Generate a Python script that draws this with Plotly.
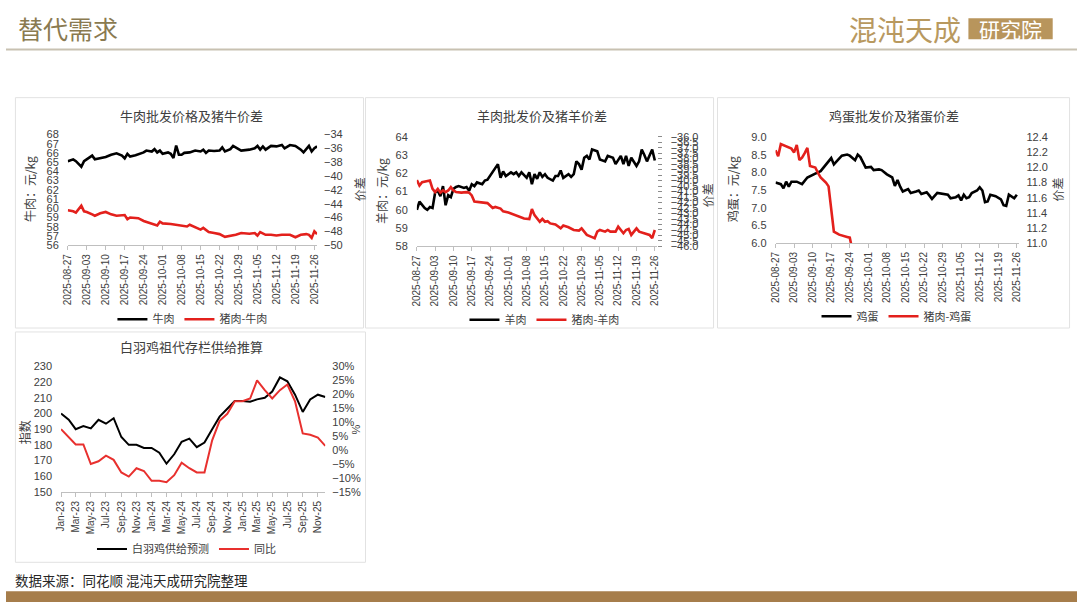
import plotly.graph_objects as go

W, H = 1080, 608

# ---------------- data ----------------
# Chart 1: 牛肉批发价格及猪牛价差
beef_dates = ["2025-08-27","2025-08-29","2025-08-30","2025-09-01","2025-09-02","2025-09-04","2025-09-05","2025-09-06",
              "2025-09-08","2025-09-10","2025-09-12","2025-09-14","2025-09-16","2025-09-17","2025-09-18","2025-09-19",
              "2025-09-21","2025-09-23","2025-09-24","2025-09-25","2025-09-27","2025-09-28","2025-09-29","2025-09-30",
              "2025-10-01","2025-10-03","2025-10-04","2025-10-05","2025-10-06","2025-10-07","2025-10-08","2025-10-09",
              "2025-10-11","2025-10-13","2025-10-15","2025-10-16","2025-10-17","2025-10-18","2025-10-20","2025-10-22",
              "2025-10-23","2025-10-24","2025-10-26","2025-10-27","2025-10-28","2025-10-30","2025-11-02","2025-11-04",
              "2025-11-05","2025-11-06","2025-11-07","2025-11-08","2025-11-10","2025-11-12","2025-11-14","2025-11-15",
              "2025-11-17","2025-11-19","2025-11-21","2025-11-22","2025-11-24","2025-11-25","2025-11-26","2025-11-27"]
beef = [65.1,65.3,65.1,64.5,65.1,65.45,65.7,65.3,65.45,65.55,65.8,65.95,65.7,65.4,65.9,65.6,
        65.75,65.9,66.05,66.25,66.15,66.4,66.05,66.25,65.9,66.05,65.9,65.45,66.8,65.8,65.8,66.0,
        66.05,66.25,66.15,66.35,66.0,66.25,66.2,66.25,66.6,66.15,66.4,66.75,66.6,66.25,66.35,66.5,
        66.75,66.35,66.7,66.35,66.75,66.7,66.85,66.5,66.85,66.75,66.35,66.05,66.75,66.15,66.5,66.7]

pork_beef_dates = ["2025-08-27","2025-08-29","2025-08-30","2025-09-01","2025-09-02","2025-09-03","2025-09-05","2025-09-06",
                   "2025-09-08","2025-09-10","2025-09-12","2025-09-14","2025-09-17","2025-09-18","2025-09-19","2025-09-22",
                   "2025-09-24","2025-09-26","2025-09-28","2025-09-29","2025-09-30","2025-10-01","2025-10-04","2025-10-08",
                   "2025-10-10","2025-10-11","2025-10-13","2025-10-15","2025-10-16","2025-10-18","2025-10-20","2025-10-22",
                   "2025-10-24","2025-10-26","2025-10-28","2025-10-30","2025-11-02","2025-11-04","2025-11-05","2025-11-06",
                   "2025-11-08","2025-11-10","2025-11-12","2025-11-14","2025-11-17","2025-11-19","2025-11-21","2025-11-23",
                   "2025-11-24","2025-11-25","2025-11-26","2025-11-27"]
pork_beef = [-44.95,-45.1,-45.3,-44.3,-45.1,-45.2,-45.55,-45.75,-45.4,-45.2,-45.55,-45.75,-45.65,-46.25,-46.0,-46.1,
             -46.5,-46.8,-47.05,-47.15,-46.6,-46.85,-46.95,-47.2,-47.3,-47.05,-47.35,-47.75,-47.5,-48.1,-48.25,-48.4,
             -48.8,-48.7,-48.5,-48.25,-48.35,-48.25,-48.6,-48.1,-48.5,-48.5,-48.6,-48.5,-48.5,-48.85,-48.5,-48.4,
             -48.5,-48.95,-48.0,-48.4]

# Chart 2: 羊肉批发价及猪羊价差
mutton_dates = ["2025-08-27","2025-08-28","2025-08-30","2025-08-31","2025-09-01","2025-09-02","2025-09-03","2025-09-04",
                "2025-09-05","2025-09-06","2025-09-07","2025-09-08","2025-09-09","2025-09-10","2025-09-11","2025-09-12",
                "2025-09-14","2025-09-15","2025-09-16","2025-09-17","2025-09-18","2025-09-19","2025-09-21","2025-09-22",
                "2025-09-23","2025-09-25","2025-09-26","2025-09-27","2025-09-28","2025-09-29","2025-09-30","2025-10-02",
                "2025-10-03","2025-10-04","2025-10-05","2025-10-06","2025-10-08","2025-10-09","2025-10-10","2025-10-11",
                "2025-10-12","2025-10-13","2025-10-14","2025-10-15","2025-10-16","2025-10-18","2025-10-19","2025-10-20",
                "2025-10-21","2025-10-22","2025-10-24","2025-10-25","2025-10-26","2025-10-27","2025-10-28","2025-10-29",
                "2025-10-30","2025-10-31","2025-11-01","2025-11-02","2025-11-04","2025-11-05","2025-11-07","2025-11-08",
                "2025-11-10","2025-11-11","2025-11-13","2025-11-14","2025-11-15","2025-11-16","2025-11-17","2025-11-19",
                "2025-11-20","2025-11-21","2025-11-22","2025-11-23","2025-11-25","2025-11-26"]
mutton = [60.0,60.45,60.1,60.0,60.15,60.1,60.95,61.05,60.75,61.3,60.25,60.8,60.7,61.15,61.25,61.3,
          61.2,61.25,61.05,61.4,61.3,61.5,61.4,61.6,61.65,62.05,62.3,62.5,61.75,62.1,61.85,62.05,
          61.95,62.05,61.85,62.05,61.75,62.05,61.4,61.95,61.7,62.05,61.8,61.95,61.75,61.6,61.85,61.85,
          62.15,61.75,61.95,61.8,61.95,62.65,62.5,62.2,62.85,62.95,62.75,63.3,63.2,62.75,62.65,62.95,
          62.85,62.5,62.95,62.5,62.95,62.4,62.85,62.4,62.65,63.3,63.0,62.65,63.3,62.7]

pork_mutton_dates = ["2025-08-27","2025-08-28","2025-08-29","2025-08-30","2025-09-01","2025-09-02","2025-09-03","2025-09-04",
                     "2025-09-05","2025-09-06","2025-09-07","2025-09-08","2025-09-09","2025-09-10","2025-09-11","2025-09-13",
                     "2025-09-15","2025-09-16","2025-09-17","2025-09-18","2025-09-20","2025-09-23","2025-09-25","2025-09-26",
                     "2025-09-28","2025-09-29","2025-10-01","2025-10-03","2025-10-05","2025-10-07","2025-10-09","2025-10-10",
                     "2025-10-11","2025-10-12","2025-10-13","2025-10-14","2025-10-15","2025-10-16","2025-10-17","2025-10-19",
                     "2025-10-21","2025-10-22","2025-10-24","2025-10-26","2025-10-28","2025-10-29","2025-10-31","2025-11-02",
                     "2025-11-03","2025-11-04","2025-11-05","2025-11-07","2025-11-08","2025-11-09","2025-11-11","2025-11-12",
                     "2025-11-14","2025-11-15","2025-11-16","2025-11-17","2025-11-19","2025-11-20","2025-11-22","2025-11-24",
                     "2025-11-25","2025-11-26"]
pork_mutton = [-39.95,-40.45,-40.15,-40.1,-40.0,-40.75,-41.05,-40.75,-41.1,-40.9,-41.05,-40.9,-40.6,-40.9,-41.05,-41.1,
               -41.05,-41.1,-41.35,-41.9,-41.95,-42.05,-42.5,-42.4,-42.55,-42.8,-42.9,-43.1,-43.25,-43.45,-43.5,-42.6,
               -43.15,-43.45,-43.75,-43.5,-43.75,-43.7,-43.9,-44.0,-44.35,-44.1,-44.25,-44.5,-44.55,-44.35,-44.95,-45.15,
               -45.25,-44.65,-44.5,-44.65,-44.5,-44.65,-44.65,-44.2,-44.8,-44.5,-44.4,-44.95,-44.35,-44.65,-44.8,-44.95,
               -45.25,-44.5]

# Chart 3: 鸡蛋批发价及猪蛋价差
egg_dates = ["2025-08-27","2025-08-29","2025-08-30","2025-08-31","2025-09-01","2025-09-02","2025-09-04","2025-09-06",
             "2025-09-08","2025-09-10","2025-09-11","2025-09-13","2025-09-15","2025-09-17","2025-09-18","2025-09-19",
             "2025-09-21","2025-09-23","2025-09-24","2025-09-26","2025-09-27","2025-09-28","2025-09-29","2025-09-30",
             "2025-10-02","2025-10-03","2025-10-05","2025-10-06","2025-10-08","2025-10-10","2025-10-11","2025-10-12",
             "2025-10-13","2025-10-14","2025-10-16","2025-10-17","2025-10-19","2025-10-20","2025-10-21","2025-10-23",
             "2025-10-24","2025-10-25","2025-10-27","2025-10-29","2025-10-31","2025-11-01","2025-11-03","2025-11-04",
             "2025-11-05","2025-11-06","2025-11-07","2025-11-08","2025-11-09","2025-11-11","2025-11-12","2025-11-13",
             "2025-11-14","2025-11-15","2025-11-16","2025-11-18","2025-11-20","2025-11-21","2025-11-22","2025-11-23",
             "2025-11-25","2025-11-26"]
egg = [7.72,7.67,7.55,7.74,7.6,7.74,7.74,7.67,7.86,7.92,7.97,8.04,8.23,8.41,8.23,8.32,
       8.48,8.51,8.48,8.35,8.51,8.44,8.28,8.14,8.16,8.07,8.09,8.07,7.95,7.86,7.62,7.79,
       7.6,7.46,7.53,7.42,7.46,7.49,7.39,7.44,7.35,7.25,7.42,7.39,7.37,7.27,7.3,7.35,
       7.21,7.37,7.27,7.3,7.42,7.49,7.58,7.49,7.16,7.18,7.37,7.33,7.24,7.07,7.05,7.37,
       7.27,7.37]

pork_egg_dates = ["2025-08-27","2025-08-28","2025-08-29","2025-08-31","2025-09-02","2025-09-03","2025-09-04","2025-09-05",
                  "2025-09-06","2025-09-07","2025-09-08","2025-09-09","2025-09-11","2025-09-12","2025-09-13","2025-09-15",
                  "2025-09-16","2025-09-18","2025-09-20","2025-09-23","2025-09-24","2025-09-25"]
pork_egg = [12.23,12.15,12.31,12.28,12.25,12.2,12.3,12.1,12.13,12.19,12.26,12.02,12.0,11.93,11.87,11.8,
            11.75,11.15,11.11,11.08,11.07,10.9]

# Chart 4: 白羽鸡祖代存栏供给推算 (monthly)
months = ["2023-01-01","2023-02-01","2023-03-01","2023-04-01","2023-05-01","2023-06-01","2023-07-01","2023-08-01",
          "2023-09-01","2023-10-01","2023-11-01","2023-12-01","2024-01-01","2024-02-01","2024-03-01","2024-04-01",
          "2024-05-01","2024-06-01","2024-07-01","2024-08-01","2024-09-01","2024-10-01","2024-11-01","2024-12-01",
          "2025-01-01","2025-02-01","2025-03-01","2025-04-01","2025-05-01","2025-06-01","2025-07-01","2025-08-01",
          "2025-09-01","2025-10-01","2025-11-01","2025-12-01"]
broiler_supply = [200,196,190,192,190.5,196,193.5,197,185,180,180,178,178,175,168,174,
                  182,184,178.5,181.5,190,198,203,208,208,207.5,209,210,214,223,220.5,212,
                  201,209,212,210.5]
broiler_yoy = [7.5,4.5,2,2,-5,-4,-2,-3.5,-8,-9.5,-6.5,-7.5,-11,-11,-11.5,-9,
               -4.5,-6.5,-8,-8,3.5,10.5,13,17.5,17.5,18.5,25,21.5,18.5,21.5,23.5,17.5,
               6,5.5,4.5,1.5]

# ---------------- helpers ----------------
def px(x):
    return x / W

def py(y):
    return 1 - y / H

FONT = "Liberation Sans, Arial, Noto Sans CJK SC, sans-serif"
CJK = "Noto Sans CJK SC, sans-serif"
TXT = "#404040"
BLACK = "#000000"
RED = "#E3201C"

fig = go.Figure()

def line(x, y, name, color, xa, ya, leg, width=2.6):
    fig.add_trace(go.Scatter(x=x, y=y, name=name, mode="lines",
                             line=dict(color=color, width=width),
                             xaxis=xa, yaxis=ya, legend=leg, hoverinfo="skip"))

line(beef_dates, beef, "牛肉", BLACK, "x", "y", "legend")
line(pork_beef_dates, pork_beef, "猪肉-牛肉", RED, "x", "y2", "legend")
line(mutton_dates, mutton, "羊肉", BLACK, "x2", "y3", "legend2")
line(pork_mutton_dates, pork_mutton, "猪肉-羊肉", RED, "x2", "y4", "legend2")
line(egg_dates, egg, "鸡蛋", BLACK, "x3", "y5", "legend3")
line(pork_egg_dates, pork_egg, "猪肉-鸡蛋", RED, "x3", "y6", "legend3")
line(months, broiler_supply, "白羽鸡供给预测", BLACK, "x4", "y7", "legend4", width=2.0)
line(months, broiler_yoy, "同比", "#E8302E", "x4", "y8", "legend4", width=2.0)

def date_axis(x0, x1, anchor):
    return dict(type="date", domain=[px(x0), px(x1)], anchor=anchor,
                range=["2025-08-27", "2025-11-27"], tick0="2025-08-27", dtick=7 * 86400000,
                tickformat="%Y-%m-%d", tickangle=-90, showgrid=False, zeroline=False,
                showline=True, linecolor="#BFBFBF", linewidth=1,
                ticks="outside", ticklen=4, tickcolor="#BFBFBF",
                tickfont=dict(size=10, color=TXT, family=FONT))

def left_axis(y0, y1, anchor, rng, dtick, fmt=None):
    d = dict(domain=[py(y1), py(y0)], anchor=anchor, range=rng, dtick=dtick, tick0=rng[0],
             showgrid=False, zeroline=False, showline=False, ticks="",
             ticklabelstandoff=8, tickfont=dict(size=11, color=TXT, family=FONT))
    if fmt:
        d["tickformat"] = fmt
    return d

def right_axis(over, anchor, rng, dtick, fmt=None, suffix=None, ticks=""):
    d = dict(overlaying=over, side="right", anchor=anchor, range=rng, dtick=dtick, tick0=rng[0],
             showgrid=False, zeroline=False, showline=False, ticks=ticks, ticklen=4,
             tickcolor="#8C8C8C", ticklabelstandoff=6,
             tickfont=dict(size=11, color=TXT, family=FONT))
    if fmt:
        d["tickformat"] = fmt
    if suffix:
        d["ticksuffix"] = suffix
    return d

layout = dict(
    width=W, height=H, margin=dict(l=0, r=0, t=0, b=0), autosize=False,
    paper_bgcolor="#FFFFFF", plot_bgcolor="rgba(0,0,0,0)",
    font=dict(family=FONT, color=TXT),
    xaxis=date_axis(62.3, 313.7, "y"),
    yaxis=left_axis(131, 244, "x", [56, 68], 1),
    yaxis2=right_axis("y", "x", [-50, -34], 2),
    xaxis2=date_axis(414.3, 656.9, "y3"),
    yaxis3=left_axis(133.3, 245.3, "x2", [58, 64], 1),
    yaxis4=right_axis("y3", "x2", [-46, -36], 0.5, fmt=".1f", ticks="outside"),
    xaxis3=date_axis(776, 1022, "y5"),
    yaxis5=left_axis(134, 241.7, "x3", [6, 9], 0.5, fmt=".1f"),
    yaxis6=right_axis("y5", "x3", [11, 12.4], 0.2, fmt=".1f"),
    xaxis4=dict(type="date", domain=[px(55.5), px(322)], anchor="y7",
                range=["2023-01-01", "2025-12-01"], tick0="2023-01-01", dtick="M2",
                tickformat="%b-%y", tickangle=-90, showgrid=False, zeroline=False,
                showline=True, linecolor="#BFBFBF", ticks="outside", ticklen=4, tickcolor="#BFBFBF",
                tickfont=dict(size=10, color=TXT, family=FONT)),
    yaxis7=left_axis(367.7, 495.7, "x4", [150, 230], 10),
    yaxis8=right_axis("y7", "x4", [-15, 30], 5, suffix="%"),
    showlegend=True,
)

def legend_cfg(xc, yc):
    return dict(x=px(xc), y=py(yc), xanchor="center", yanchor="middle", orientation="h",
                bgcolor="rgba(0,0,0,0)", font=dict(size=11, color=TXT, family=CJK),
                itemwidth=30, tracegroupgap=0)

layout["legend"] = legend_cfg(188, 319.5)
layout["legend2"] = legend_cfg(543, 320)
layout["legend3"] = legend_cfg(898, 316.5)
layout["legend4"] = legend_cfg(182, 554)
fig.update_layout(**layout)

# ---------------- panels, header, footer ----------------
shapes = []
for (x0, y0, x1, y1) in [(9.5, 93.5, 360.5, 328.5), (362.5, 93.5, 713.5, 328.5),
                         (717.5, 93.5, 1072.5, 328.5), (9.5, 332.5, 362.5, 567.5)]:
    shapes.append(dict(type="rect", xref="paper", yref="paper", x0=px(x0), x1=px(x1),
                       y0=py(y1), y1=py(y0), line=dict(color="#E2E2E2", width=1), layer="below"))
# header rule
shapes.append(dict(type="line", xref="paper", yref="paper", x0=0, x1=1, y0=py(44.5), y1=py(44.5),
                   line=dict(color="#C8C1B1", width=2)))
# logo box
shapes.append(dict(type="rect", xref="paper", yref="paper", x0=px(970.5), x1=px(1055.5),
                   y0=py(34), y1=py(12.5), fillcolor="#B8955C", line=dict(width=0)))
# footer bar
shapes.append(dict(type="rect", xref="paper", yref="paper", x0=0, x1=1, y0=0, y1=py(597),
                   fillcolor="#A67D4B", line=dict(width=0)))
fig.update_layout(shapes=shapes)

def ann(text, x, y, size, color=TXT, angle=0, xanchor="center", family=CJK):
    fig.add_annotation(text=text, x=px(x), y=py(y), xref="paper", yref="paper", showarrow=False,
                       xanchor=xanchor, yanchor="middle", textangle=angle,
                       font=dict(size=size, color=color, family=family))

# header
ann("替代需求", 10, 22, 25, color="#8A7A50", xanchor="left")
ann("混沌天成", 907, 23, 28, color="#B8995F")
ann("研究院", 1013, 23.5, 21, color="#FFFFFF")
# footer
ann("数据来源：同花顺 混沌天成研究院整理", 7, 586, 13.5, color="#262626", xanchor="left")

# chart titles
ann("牛肉批发价格及猪牛价差", 187, 111.5, 13)
ann("羊肉批发价及猪羊价差", 540, 111.5, 13)
ann("鸡蛋批发价及猪蛋价差", 895, 111.5, 13)
ann("白羽鸡祖代存栏供给推算", 187, 347, 13)

# axis titles
ann("牛肉：元/kg", 24, 187, 12, angle=-90)
ann("价差", 356, 187, 12, angle=-90)
ann("羊肉：元/kg", 378, 189, 12, angle=-90)
ann("价差", 707, 193, 12, angle=-90)
ann("鸡蛋：元/kg", 732, 187, 12, angle=-90)
ann("价差", 1060, 187, 12, angle=-90)
ann("指数", 19, 435, 12, angle=-90)
ann("%", 353, 432, 11, angle=-90, family=FONT)

post = ("var h=document.documentElement,b=document.body;"
        "h.style.margin='0';h.style.padding='0';h.style.overflow='hidden';"
        "b.style.margin='0';b.style.padding='0';b.style.overflow='hidden';"
        "var g=document.getElementsByClassName('plotly-graph-div')[0];"
        "if(g){g.style.position='fixed';g.style.left='0px';g.style.top='0px';}")
fig.write_html("out.html", config={"displayModeBar": False}, post_script=post)
